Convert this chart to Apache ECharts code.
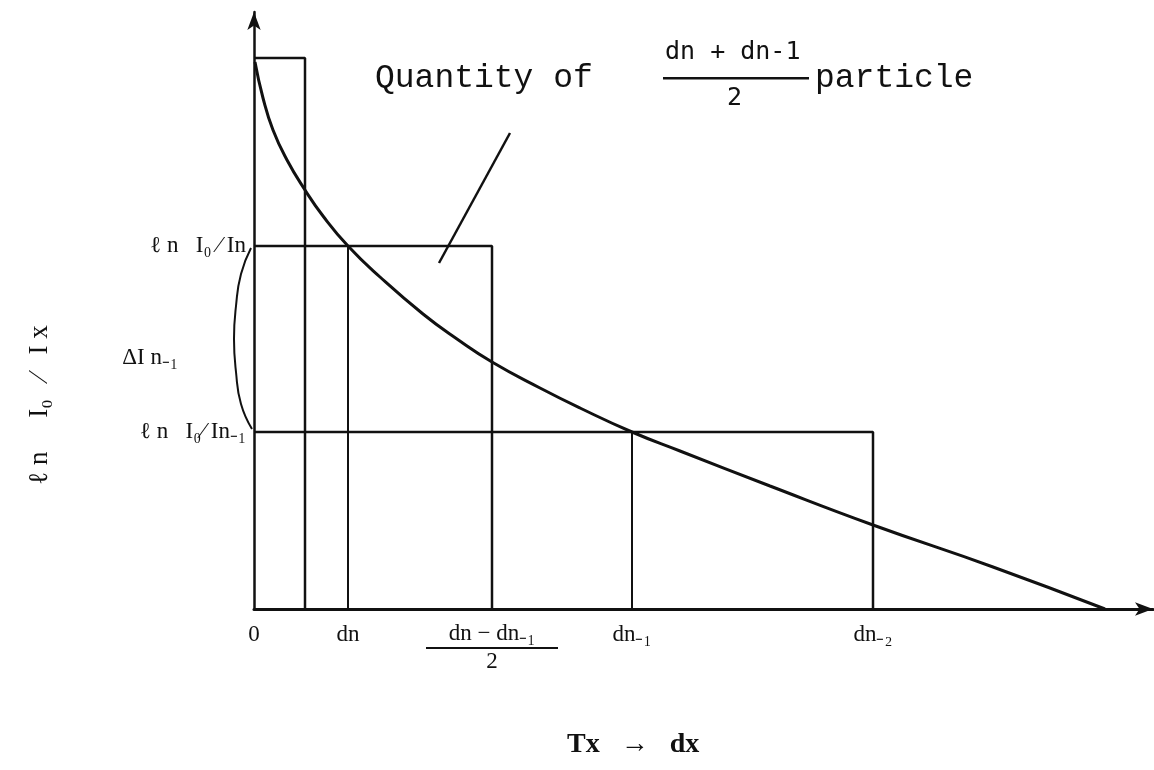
<!DOCTYPE html>
<html>
<head>
<meta charset="utf-8">
<script src="https://cdn.jsdelivr.net/npm/echarts@6/dist/echarts.min.js"></script>
<style>
    html,body{margin:0;padding:0;background:#fff;}
    #chart{width:1154px;height:770px;}
</style>
</head>
<body>
<div id="chart"></div>
<script>
// 曲线 ln(I0/Ix) 对 dx 的点
var curveX = [1, 9, 19, 33, 51, 69, 94, 126, 169, 203, 238, 286, 326, 378, 426, 516, 619, 739, 851];
var curveY = [547, 511, 479, 449, 419, 393, 363, 332, 295, 270, 247, 221, 201, 177, 158, 123, 84, 42, 0];

// 三个矩形: 右边位置 和 顶部高度
var rectRight = [51, 238, 619];
var rectTop = [551, 363, 177];
// 曲线和矩形顶边交点处的竖线
var crossX = [94, 378];

// 坐标轴标签位置
var xTickValues = [0, 94, 238, 378, 619];
var xTickLabels = ['0', 'dn', 'frac', 'dn₋₁', 'dn₋₂'];
var yTickValues = [363, 251, 177];
var yTickLabels = ['ℓ n   I₀ ⁄ In', 'ΔI n₋₁', 'ℓ n   I₀⁄ In₋₁'];

// 指引线
var pointerX = [256, 185];
var pointerY = [476, 346];
// 左侧括号 (在第二个坐标系里, x 向左偏 30)
var braceX = [27, 17, 12, 10, 12, 17, 28];
var braceY = [361, 335, 303, 270, 237, 205, 180];

function pairs(xs, ys){
    var out = [];
    for (var i = 0; i < xs.length; i++) out.push([xs[i], ys[i]]);
    return out;
}

var ink = '#111';
var series = [];

function addLine(data, smooth, width, gridIdx){
    series.push({
        type: 'line',
        data: data,
        smooth: smooth || false,
        symbol: 'none',
        silent: true,
        xAxisIndex: gridIdx || 0,
        yAxisIndex: gridIdx || 0,
        lineStyle: {color: ink, width: width || 2.5}
    });
}

addLine(pairs(curveX, curveY), 0.5, 3);
for (var i = 0; i < rectRight.length; i++){
    addLine([[0, rectTop[i]], [rectRight[i], rectTop[i]], [rectRight[i], 0]]);
}
for (var j = 0; j < crossX.length; j++){
    // 竖线从曲线交点到 x 轴
    var k = curveX.indexOf(crossX[j]);
    addLine([[crossX[j], curveY[k]], [crossX[j], 0]], false, 2);
}
addLine(pairs(pointerX, pointerY), false, 2.5);
addLine(pairs(braceX, braceY), 0.5, 2, 1);

var myChart = echarts.init(document.getElementById('chart'));
var option = {
    backgroundColor: '#fff',
    animation: false,
    grid: [
        {left: 254, right: 1, top: 12, bottom: 161},
        {left: 224, right: 1, top: 12, bottom: 161}
    ],
    xAxis: [{
        type: 'value', min: 0, max: 899,
        splitLine: {show: false},
        axisTick: {show: false},
        axisLine: {show: true, onZero: false, symbol: ['none', 'arrow'], symbolSize: [10, 18],
            lineStyle: {color: ink, width: 3}},
        axisLabel: {
            customValues: xTickValues,
            margin: 14,
            color: ink,
            fontFamily: 'Liberation Serif',
            fontSize: 23,
            formatter: function(v){
                var label = xTickLabels[xTickValues.indexOf(v)];
                if (label === 'frac') return '{n|dn − dn₋₁}\n{bar|}\n{n|2}';
                return label;
            },
            rich: {
                n: {fontFamily: 'Liberation Serif', fontSize: 23, color: ink, lineHeight: 22},
                bar: {width: 132, height: 2, lineHeight: 6, backgroundColor: ink}
            }
        }
    }, {
        gridIndex: 1, type: 'value', min: 0, max: 929, show: false
    }],
    yAxis: [{
        type: 'value', min: 0, max: 597,
        splitLine: {show: false},
        axisTick: {show: false},
        axisLine: {show: true, onZero: false, symbol: ['none', 'arrow'], symbolSize: [10, 18],
            lineStyle: {color: ink, width: 2.5}},
        axisLabel: {
            customValues: yTickValues,
            margin: 8,
            color: ink,
            fontFamily: 'Liberation Serif',
            fontSize: 23,
            formatter: function(v){
                var idx = yTickValues.indexOf(v);
                if (idx === 1) return '{d|' + yTickLabels[idx] + '}';
                return yTickLabels[idx];
            },
            rich: {
                d: {fontFamily: 'Liberation Serif', fontSize: 23, color: ink, padding: [0, 68, 0, 0]}
            }
        }
    }, {
        gridIndex: 1, type: 'value', min: 0, max: 597, show: false
    }],
    graphic: [
        // 标题注释
        {type: 'text', left: 375, top: 62, style: {text: 'Quantity of', fontFamily: 'Liberation Mono', fontSize: 33, fill: ink}},
        {type: 'text', left: 665, top: 40, style: {text: 'dn + dn-1', fontFamily: 'DejaVu Sans Mono', fontSize: 25, fill: ink}},
        {type: 'rect', shape: {x: 663, y: 77, width: 146, height: 2.5}, style: {fill: ink}},
        {type: 'text', left: 727, top: 86, style: {text: '2', fontFamily: 'DejaVu Sans Mono', fontSize: 25, fill: ink}},
        {type: 'text', left: 815, top: 62, style: {text: 'particle', fontFamily: 'Liberation Mono', fontSize: 33, fill: ink}},
        // 坐标轴名称
        {type: 'text', left: 567, top: 731, style: {text: 'Tx   →   dx', fontFamily: 'Liberation Serif', fontWeight: 'bold', fontSize: 28, fill: ink}},
        {type: 'text', x: 40, y: 405, rotation: Math.PI / 2,
            style: {text: 'ℓ n     I₀   ⁄   I x', fontFamily: 'Liberation Serif', fontSize: 27, fill: ink,
                align: 'center', verticalAlign: 'middle'}}
    ],
    series: series
};
myChart.setOption(option);
</script>
</body>
</html>
